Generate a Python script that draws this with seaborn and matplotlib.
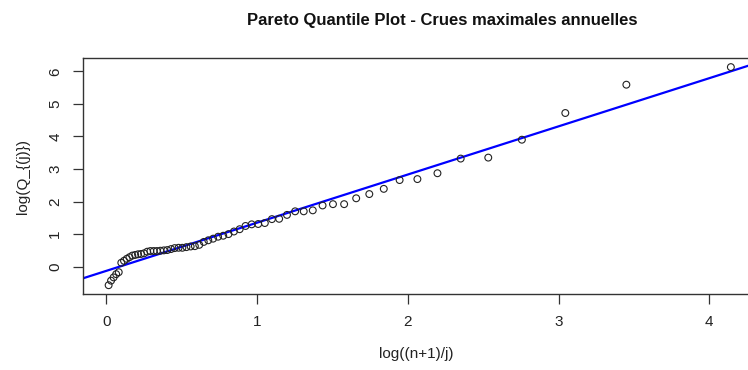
import matplotlib
matplotlib.use("Agg")
import matplotlib.pyplot as plt
import seaborn as sns
import pandas as pd

# Pareto quantile plot data (j = 1..62, n = 62)
x_vals = [4.143, 3.450, 3.045, 2.757, 2.534, 2.351, 2.197, 2.064, 1.946, 1.841,
          1.745, 1.658, 1.578, 1.504, 1.435, 1.370, 1.310, 1.253, 1.199, 1.147,
          1.099, 1.052, 1.008, 0.965, 0.924, 0.885, 0.847, 0.811, 0.776, 0.742,
          0.709, 0.677, 0.647, 0.617, 0.588, 0.560, 0.532, 0.505, 0.480, 0.454,
          0.430, 0.405, 0.382, 0.359, 0.336, 0.315, 0.293, 0.272, 0.251, 0.231,
          0.211, 0.192, 0.173, 0.154, 0.136, 0.118, 0.100, 0.083, 0.066, 0.049,
          0.032, 0.016]
y_vals = [6.13, 5.59, 4.72, 3.90, 3.35, 3.32, 2.87, 2.69, 2.66, 2.39,
          2.23, 2.10, 1.92, 1.92, 1.88, 1.73, 1.70, 1.70, 1.59, 1.47,
          1.46, 1.34, 1.31, 1.30, 1.25, 1.15, 1.08, 1.00, 0.95, 0.92,
          0.86, 0.81, 0.76, 0.67, 0.63, 0.62, 0.60, 0.58, 0.58, 0.57,
          0.54, 0.51, 0.50, 0.49, 0.48, 0.48, 0.48, 0.46, 0.41, 0.39,
          0.38, 0.36, 0.34, 0.29, 0.24, 0.18, 0.12, -0.17, -0.23, -0.33,
          -0.43, -0.57]
fit_intercept = -0.13
fit_slope = 1.48
x_ticks = [0, 1, 2, 3, 4]
y_ticks = [0, 1, 2, 3, 4, 5, 6]

df = pd.DataFrame({"x": x_vals, "y": y_vals})

sns.set_style("white")
plt.rcParams["font.family"] = ["Liberation Sans", "DejaVu Sans"]

fig = plt.figure(figsize=(7.48, 3.70), dpi=100)
W, H = 748, 370
left, right, top, bottom = 83, 750, 58, 294
ax = fig.add_axes([left / W, 1 - bottom / H, (right - left) / W, (bottom - top) / H])

sns.scatterplot(data=df, x="x", y="y", ax=ax, marker="o", s=24,
                facecolors="none", edgecolor="#222222", linewidth=0.8, zorder=3)
ax.axline((0, fit_intercept), slope=fit_slope, color="#0000ff", lw=1.6, zorder=2)

ax.set_xlim(-0.154, 4.27)
ax.set_ylim(-0.84, 6.41)
ax.set_xticks(x_ticks)
ax.set_yticks(y_ticks)
ax.set_xticklabels([str(v) for v in x_ticks])
ax.set_yticklabels([str(v) for v in y_ticks], rotation=90, va="center")

for sp in ["left", "top", "bottom"]:
    ax.spines[sp].set_visible(True)
    ax.spines[sp].set_color("#333333")
    ax.spines[sp].set_linewidth(1.0)
ax.spines["right"].set_visible(False)

ax.tick_params(axis="both", direction="out", length=7, width=0.9,
               color="#333333", labelsize=11, labelcolor="#222222", pad=8,
               left=True, bottom=True)

ax.set_xlabel("log((n+1)/j)", fontsize=11, color="#222222", labelpad=13)
ax.set_ylabel("log(Q_{(j)})", fontsize=11, color="#222222", labelpad=13)

fig.text(442 / W, 1 - 20 / H, "Pareto Quantile Plot - Crues maximales annuelles",
         ha="center", va="center", fontsize=12, fontweight="bold", color="#111111")

fig.savefig("out.png", dpi=100)
